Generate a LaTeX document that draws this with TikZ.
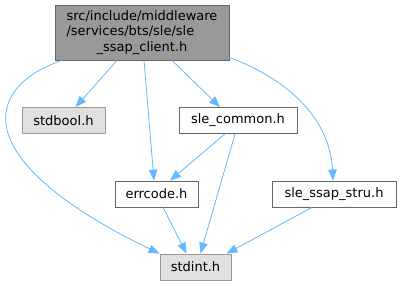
\documentclass[tikz,border=0pt]{standalone}
\usepackage{fontspec}
\setmainfont{DejaVu Sans}
\usetikzlibrary{arrows.meta,calc}
\definecolor{edgeblue}{HTML}{63B8FF}
\definecolor{rootfill}{HTML}{999999}
\definecolor{rootdraw}{HTML}{666666}
\definecolor{extfill}{HTML}{E0E0E0}
\definecolor{extdraw}{HTML}{999999}
\begin{document}
\begin{tikzpicture}[x=1pt,y=-1pt,
  box/.style={draw=rootdraw,fill=white,line width=0.8pt,inner sep=0pt,
    font=\fontsize{13}{15.5}\selectfont,minimum height=26pt},
  rootbox/.style={box,fill=rootfill,draw=rootdraw},
  extbox/.style={box,fill=extfill,draw=extdraw},
  edge/.style={draw=edgeblue,line width=0.8pt,
    -{Triangle[length=11pt,width=8.5pt]},fill=none}]
\useasboundingbox (0,0) rectangle (401,285);
\node[rootbox,minimum width=174pt,minimum height=55pt] (top) at (142,32.5)
  {\begin{tabular}{@{}l@{}}src/include/middleware\\/services/bts/sle/sle\\\multicolumn{1}{@{}c@{}}{\_ssap\_client.h}\end{tabular}};
\node[extbox,minimum width=83pt] (stdbool) at (63.5,120.5) {stdbool.h};
\node[box,minimum width=118pt] (common) at (238,120.5) {sle\_common.h};
\node[box,minimum width=83pt] (errcode) at (156.5,194) {errcode.h};
\node[box,minimum width=124pt] (ssap) at (334,194) {sle\_ssap\_stru.h};
\node[extbox,minimum width=71pt] (stdint) at (195.5,267) {stdint.h};
\coordinate (lbend) at (7,130);
\draw[edge] ([xshift=7pt]top.south west) .. controls (20,75) and (0,100) .. (lbend)
  .. controls (20,180) and (100,225) .. (stdint.north west);
\draw[edge] ([xshift=-25pt]top.south) -- ([xshift=12pt]stdbool.north);
\draw[edge] ([xshift=2pt]top.south) -- ([xshift=-2.5pt]errcode.north);
\draw[edge] ([xshift=30pt]top.south) -- ([xshift=-18pt]common.north);
\draw[edge] ([yshift=3pt]top.south east) .. controls (290,80) and (330,120) .. ([xshift=-1pt]ssap.north);
\draw[edge] ([xshift=-13pt]common.south) -- ([xshift=13.5pt]errcode.north);
\draw[edge] ([xshift=-3pt]common.south) -- ([xshift=5pt]stdint.north);
\draw[edge] ([xshift=6.5pt]errcode.south) -- ([xshift=-9pt]stdint.north);
\draw[edge] ([xshift=-22pt]ssap.south) -- ([xshift=31pt]stdint.north);
\end{tikzpicture}
\end{document}
